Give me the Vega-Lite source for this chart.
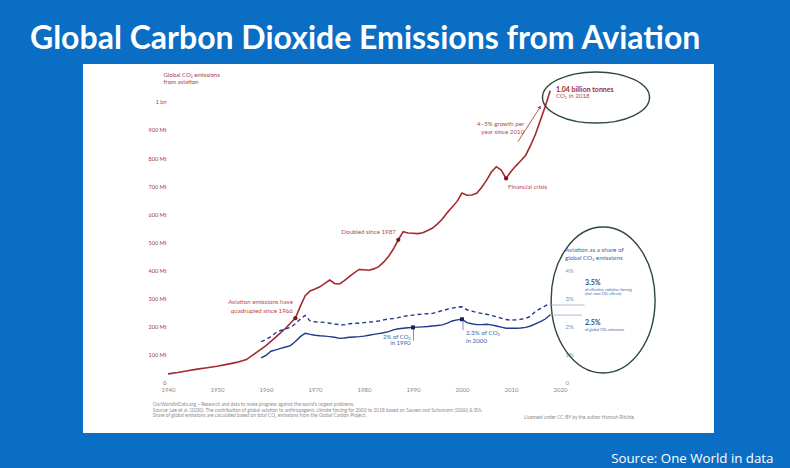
{
  "$schema": "https://vega.github.io/schema/vega-lite/v6.json",
  "width": 631,
  "height": 369,
  "autosize": {"type": "none"},
  "padding": {"left": 83, "top": 64, "right": 76, "bottom": 35},
  "background": "#0a6ec4",
  "config": {"view": {"fill": "white", "stroke": null}, "font": "Lato"},
  "title": {
    "text": "Global Carbon Dioxide Emissions from Aviation",
    "anchor": "start",
    "frame": "group",
    "dx": -53,
    "dy": 31,
    "offset": 14,
    "baseline": "alphabetic",
    "font": "Lato",
    "fontSize": 32,
    "fontWeight": "bold",
    "color": "white"
  },
  "datasets": {
    "red": [
      {"year": 1940, "mt": 29}, {"year": 1942, "mt": 34}, {"year": 1944, "mt": 40}, {"year": 1946, "mt": 46},
      {"year": 1948, "mt": 51}, {"year": 1950, "mt": 56}, {"year": 1952, "mt": 63}, {"year": 1954, "mt": 70},
      {"year": 1956, "mt": 80}, {"year": 1958, "mt": 105}, {"year": 1960, "mt": 130}, {"year": 1962, "mt": 160},
      {"year": 1964, "mt": 192}, {"year": 1966, "mt": 228}, {"year": 1967, "mt": 270}, {"year": 1968, "mt": 308},
      {"year": 1969, "mt": 325}, {"year": 1970, "mt": 332}, {"year": 1971, "mt": 340}, {"year": 1972, "mt": 352},
      {"year": 1973, "mt": 364}, {"year": 1974, "mt": 352}, {"year": 1975, "mt": 350}, {"year": 1976, "mt": 362},
      {"year": 1977, "mt": 376}, {"year": 1978, "mt": 390}, {"year": 1979, "mt": 402}, {"year": 1980, "mt": 401},
      {"year": 1981, "mt": 399}, {"year": 1982, "mt": 404}, {"year": 1983, "mt": 412}, {"year": 1984, "mt": 428},
      {"year": 1985, "mt": 448}, {"year": 1986, "mt": 475}, {"year": 1987, "mt": 508}, {"year": 1988, "mt": 537},
      {"year": 1989, "mt": 532}, {"year": 1990, "mt": 531}, {"year": 1991, "mt": 530}, {"year": 1992, "mt": 533},
      {"year": 1993, "mt": 541}, {"year": 1994, "mt": 550}, {"year": 1995, "mt": 565}, {"year": 1996, "mt": 582},
      {"year": 1997, "mt": 605}, {"year": 1998, "mt": 625}, {"year": 1999, "mt": 645}, {"year": 2000, "mt": 675},
      {"year": 2001, "mt": 667}, {"year": 2002, "mt": 668}, {"year": 2003, "mt": 674}, {"year": 2004, "mt": 695},
      {"year": 2005, "mt": 720}, {"year": 2006, "mt": 750}, {"year": 2007, "mt": 769}, {"year": 2008, "mt": 757},
      {"year": 2009, "mt": 727}, {"year": 2010, "mt": 752}, {"year": 2011, "mt": 772}, {"year": 2012, "mt": 790},
      {"year": 2013, "mt": 810}, {"year": 2014, "mt": 845}, {"year": 2015, "mt": 885}, {"year": 2016, "mt": 935},
      {"year": 2017, "mt": 985}, {"year": 2018, "mt": 1040}
    ],
    "redMarks": [
      {"year": 1966, "mt": 228}, {"year": 1987, "mt": 508}, {"year": 2009, "mt": 727}
    ],
    "redNotesR": [
      {"year": 1965.5, "mt": 286, "label": "Aviation emissions have"},
      {"year": 1965.5, "mt": 254, "label": "quadrupled since 1966"},
      {"year": 1986.5, "mt": 536, "label": "Doubled since 1987"},
      {"year": 2012.7, "mt": 921, "label": "4–5% growth per"},
      {"year": 2012.7, "mt": 893, "label": "year since 2010"}
    ],
    "redNotesL": [
      {"year": 2009.4, "mt": 696, "label": "Financial crisis"},
      {"year": 2019.2, "mt": 1021, "label": "CO₂ in 2018"}
    ],
    "redBold": [
      {"year": 2019.2, "mt": 1044, "label": "1.04 billion tonnes"}
    ],
    "arrow": [
      {"year": 2011.4, "mt": 858, "year2": 2015.7, "mt2": 975}
    ],
    "arrowHead": [
      {"year": 2015.9, "mt": 982}
    ],
    "ell1": [{"year": 2027.35, "mt": 1016}],
    "ell2": [{"year": 2028.8, "mt": 293}],
    "footL": [
      {"year": 1936.9, "mt": -82, "label": "OurWorldInData.org – Research and data to make progress against the world's largest problems."},
      {"year": 1936.9, "mt": -103, "label": "Source: Lee et al. (2020). The contribution of global aviation to anthropogenic climate forcing for 2000 to 2018 based on Sausen and Schumann (2000) & IEA."},
      {"year": 1936.9, "mt": -121, "label": "Share of global emissions are calculated based on total CO₂ emissions from the Global Carbon Project."}
    ],
    "footR": [
      {"year": 2035.3, "mt": -130, "label": "Licensed under CC-BY by the author Hannah Ritchie."}
    ],
    "solid": [
      {"year": 1959, "share": 0.86}, {"year": 1960, "share": 0.95}, {"year": 1961, "share": 1.1}, {"year": 1962, "share": 1.15},
      {"year": 1963, "share": 1.2}, {"year": 1964, "share": 1.25}, {"year": 1965, "share": 1.3}, {"year": 1966, "share": 1.45},
      {"year": 1967, "share": 1.62}, {"year": 1968, "share": 1.74}, {"year": 1969, "share": 1.7}, {"year": 1970, "share": 1.67},
      {"year": 1971, "share": 1.65}, {"year": 1972, "share": 1.64}, {"year": 1973, "share": 1.62}, {"year": 1974, "share": 1.6},
      {"year": 1975, "share": 1.56}, {"year": 1976, "share": 1.57}, {"year": 1977, "share": 1.6}, {"year": 1978, "share": 1.61},
      {"year": 1979, "share": 1.62}, {"year": 1980, "share": 1.64}, {"year": 1981, "share": 1.67}, {"year": 1982, "share": 1.7},
      {"year": 1983, "share": 1.73}, {"year": 1984, "share": 1.76}, {"year": 1985, "share": 1.8}, {"year": 1986, "share": 1.86},
      {"year": 1987, "share": 1.9}, {"year": 1988, "share": 1.92}, {"year": 1989, "share": 1.94}, {"year": 1990, "share": 1.95},
      {"year": 1991, "share": 1.96}, {"year": 1992, "share": 1.97}, {"year": 1993, "share": 1.98}, {"year": 1994, "share": 2.0},
      {"year": 1995, "share": 2.02}, {"year": 1996, "share": 2.04}, {"year": 1997, "share": 2.1}, {"year": 1998, "share": 2.18},
      {"year": 1999, "share": 2.22}, {"year": 2000, "share": 2.24}, {"year": 2001, "share": 2.12}, {"year": 2002, "share": 2.08},
      {"year": 2003, "share": 2.05}, {"year": 2004, "share": 2.05}, {"year": 2005, "share": 2.06}, {"year": 2006, "share": 2.04},
      {"year": 2007, "share": 2.0}, {"year": 2008, "share": 1.96}, {"year": 2009, "share": 1.92}, {"year": 2010, "share": 1.92},
      {"year": 2011, "share": 1.92}, {"year": 2012, "share": 1.93}, {"year": 2013, "share": 1.95}, {"year": 2014, "share": 2.0},
      {"year": 2015, "share": 2.08}, {"year": 2016, "share": 2.16}, {"year": 2017, "share": 2.25}, {"year": 2018, "share": 2.4}
    ],
    "dashed": [
      {"year": 1959, "share": 1.44}, {"year": 1960, "share": 1.52}, {"year": 1961, "share": 1.62}, {"year": 1962, "share": 1.76},
      {"year": 1963, "share": 1.84}, {"year": 1964, "share": 1.9}, {"year": 1965, "share": 1.95}, {"year": 1966, "share": 2.08},
      {"year": 1967, "share": 2.25}, {"year": 1968, "share": 2.38}, {"year": 1969, "share": 2.18}, {"year": 1970, "share": 2.15},
      {"year": 1971, "share": 2.14}, {"year": 1972, "share": 2.13}, {"year": 1973, "share": 2.1}, {"year": 1974, "share": 2.07},
      {"year": 1975, "share": 2.05}, {"year": 1976, "share": 2.04}, {"year": 1977, "share": 2.08}, {"year": 1978, "share": 2.1},
      {"year": 1979, "share": 2.1}, {"year": 1980, "share": 2.12}, {"year": 1981, "share": 2.14}, {"year": 1982, "share": 2.15},
      {"year": 1983, "share": 2.18}, {"year": 1984, "share": 2.22}, {"year": 1985, "share": 2.25}, {"year": 1986, "share": 2.27},
      {"year": 1987, "share": 2.3}, {"year": 1988, "share": 2.34}, {"year": 1989, "share": 2.37}, {"year": 1990, "share": 2.39},
      {"year": 1991, "share": 2.41}, {"year": 1992, "share": 2.43}, {"year": 1993, "share": 2.44}, {"year": 1994, "share": 2.45},
      {"year": 1995, "share": 2.5}, {"year": 1996, "share": 2.55}, {"year": 1997, "share": 2.6}, {"year": 1998, "share": 2.64},
      {"year": 1999, "share": 2.67}, {"year": 2000, "share": 2.69}, {"year": 2001, "share": 2.58}, {"year": 2002, "share": 2.53},
      {"year": 2003, "share": 2.48}, {"year": 2004, "share": 2.45}, {"year": 2005, "share": 2.42}, {"year": 2006, "share": 2.38},
      {"year": 2007, "share": 2.33}, {"year": 2008, "share": 2.28}, {"year": 2009, "share": 2.23}, {"year": 2010, "share": 2.21},
      {"year": 2011, "share": 2.22}, {"year": 2012, "share": 2.24}, {"year": 2013, "share": 2.27}, {"year": 2014, "share": 2.35},
      {"year": 2015, "share": 2.52}, {"year": 2016, "share": 2.62}, {"year": 2017, "share": 2.72}, {"year": 2018, "share": 2.8}
    ],
    "blueMarks": [{"year": 1990, "share": 1.95}, {"year": 2000, "share": 2.24}],
    "blueConn": [{"year": 1990.1, "share": 1.9, "share2": 1.48}, {"year": 2000.2, "share": 2.15, "share2": 1.85}],
    "leaders": [{"year": 2017.8, "year2": 2025, "share": 2.75}, {"year": 2017.8, "year2": 2024.5, "share": 2.39}],
    "blueNotesR": [
      {"year": 1989.5, "share": 1.61, "label": "2% of CO₂"},
      {"year": 1989.5, "share": 1.4, "label": "in 1990"}
    ],
    "blueNotesL": [
      {"year": 2000.8, "share": 1.75, "label": "2.3% of CO₂"},
      {"year": 2000.8, "share": 1.46, "label": "in 2000"},
      {"year": 2021.0, "share": 4.71, "label": "Aviation as a share of"},
      {"year": 2021.0, "share": 4.43, "label": "global CO₂ emissions"}
    ],
    "blueBold": [
      {"year": 2025.1, "share": 3.54, "label": "3.5%"},
      {"year": 2025.1, "share": 2.11, "label": "2.5%"}
    ],
    "blueSmall": [
      {"year": 2025.1, "share": 3.3, "label": "of effective radiative forcing"},
      {"year": 2025.1, "share": 3.13, "label": "(incl. non-CO₂ effects)"},
      {"year": 2025.1, "share": 1.84, "label": "of global CO₂ emissions"}
    ]
  },
  "encoding": {
    "x": {
      "field": "year",
      "type": "quantitative",
      "scale": {"domain": [1922.653, 2051.43], "nice": false, "zero": false},
      "axis": {
        "offset": -51,
        "values": [1940, 1950, 1960, 1970, 1980, 1990, 2000, 2010, 2020],
        "format": "d",
        "labelColor": "#8a8a8a",
        "labelFontSize": 6,
        "labelPadding": 4,
        "domain": false,
        "ticks": false,
        "grid": false,
        "title": "Source: One World in data",
        "titleFont": "Open Sans",
        "titleFontSize": 13.3,
        "titleFontWeight": "normal",
        "titleColor": "white",
        "titleAlign": "right",
        "titleBaseline": "middle",
        "titleX": 690,
        "titleY": 76
      }
    }
  },
  "layer": [
    {
      "encoding": {
        "y": {
          "field": "mt",
          "type": "quantitative",
          "scale": {"domain": [-182.1, 1135.7], "nice": false, "zero": false},
          "axis": {
            "orient": "left",
            "offset": -85,
            "values": [0, 100, 200, 300, 400, 500, 600, 700, 800, 900, 1000],
            "labelExpr": "datum.value == 0 ? '0' : (datum.value == 1000 ? '1 bn' : datum.value + ' Mt')",
            "labelColor": "#a83a3f",
            "labelFontSize": 5.5,
            "labelPadding": 2,
            "domain": false,
            "ticks": false,
            "grid": false,
            "title": ["Global CO₂ emissions", "from aviation"],
            "titleAngle": 0,
            "titleAlign": "left",
            "titleBaseline": "top",
            "titleX": -5,
            "titleY": 7,
            "titleColor": "#a83a3f",
            "titleFontSize": 6,
            "titleFontWeight": "normal",
            "titleLineHeight": 7
          }
        }
      },
      "layer": [
        {"data": {"name": "footL"}, "mark": {"type": "text", "align": "left", "baseline": "middle", "fontSize": 4.8, "color": "#8c8c8c"}, "encoding": {"text": {"field": "label"}}},
        {"data": {"name": "footR"}, "mark": {"type": "text", "align": "right", "baseline": "middle", "fontSize": 4.8, "color": "#8c8c8c"}, "encoding": {"text": {"field": "label"}}},
        {"data": {"name": "red"}, "mark": {"type": "line", "color": "#a32b2f", "strokeWidth": 1.6}},
        {"data": {"name": "redMarks"}, "mark": {"type": "point", "filled": true, "color": "#7a1620", "size": 18, "opacity": 1}},
        {"data": {"name": "arrow"}, "mark": {"type": "rule", "color": "#a32b2f", "strokeWidth": 0.8}, "encoding": {"x2": {"field": "year2"}, "y2": {"field": "mt2"}}},
        {"data": {"name": "arrowHead"}, "mark": {"type": "point", "shape": "triangle-up", "filled": true, "size": 14, "angle": 32, "color": "#a32b2f", "opacity": 1}},
        {"data": {"name": "redNotesR"}, "mark": {"type": "text", "align": "right", "baseline": "middle", "fontSize": 6.2, "color": "#b5474c"}, "encoding": {"text": {"field": "label"}}},
        {"data": {"name": "redNotesL"}, "mark": {"type": "text", "align": "left", "baseline": "middle", "fontSize": 6.2, "color": "#b5474c"}, "encoding": {"text": {"field": "label"}}},
        {"data": {"name": "redBold"}, "mark": {"type": "text", "align": "left", "baseline": "middle", "fontSize": 7, "fontWeight": "bold", "color": "#a32b2f"}, "encoding": {"text": {"field": "label"}}},
        {"data": {"name": "ell1"}, "mark": {"type": "point", "shape": "M-1,0A1,0.477,0,1,0,1,0A1,0.477,0,1,0,-1,0Z", "size": 11449, "filled": false, "stroke": "#2e4a36", "strokeWidth": 1.4, "opacity": 1}},
        {"data": {"name": "ell2"}, "mark": {"type": "point", "shape": "M0,-1A0.712,1,0,1,0,0,1A0.712,1,0,1,0,0,-1Z", "size": 21316, "filled": false, "stroke": "#2e4a36", "strokeWidth": 1.4, "opacity": 1}}
      ]
    },
    {
      "encoding": {
        "y": {
          "field": "share",
          "type": "quantitative",
          "scale": {"domain": [-1.821, 11.357], "nice": false, "zero": false},
          "axis": {
            "orient": "right",
            "offset": -151,
            "values": [0, 1, 2, 3, 4],
            "labelExpr": "datum.value == 0 ? '0' : datum.value + '%'",
            "labelColor": "#7f8fae",
            "labelFontSize": 6,
            "labelPadding": 2,
            "domain": false,
            "ticks": false,
            "grid": false,
            "title": null
          }
        }
      },
      "layer": [
        {"data": {"name": "leaders"}, "mark": {"type": "rule", "color": "#9aa7c0", "strokeWidth": 0.8}, "encoding": {"x2": {"field": "year2"}}},
        {"data": {"name": "dashed"}, "mark": {"type": "line", "color": "#1f3a8a", "strokeWidth": 1.4, "strokeDash": [4, 3]}},
        {"data": {"name": "solid"}, "mark": {"type": "line", "color": "#1f3a8a", "strokeWidth": 1.4}},
        {"data": {"name": "blueConn"}, "mark": {"type": "rule", "color": "#3b64ad", "strokeWidth": 0.7}, "encoding": {"y2": {"field": "share2"}}},
        {"data": {"name": "blueMarks"}, "mark": {"type": "point", "shape": "square", "filled": true, "color": "#14245e", "size": 16, "opacity": 1}},
        {"data": {"name": "blueNotesR"}, "mark": {"type": "text", "align": "right", "baseline": "middle", "fontSize": 6, "color": "#3b64ad"}, "encoding": {"text": {"field": "label"}}},
        {"data": {"name": "blueNotesL"}, "mark": {"type": "text", "align": "left", "baseline": "middle", "fontSize": 6.3, "color": "#3b64ad"}, "encoding": {"text": {"field": "label"}}},
        {"data": {"name": "blueBold"}, "mark": {"type": "text", "align": "left", "baseline": "middle", "fontSize": 7, "fontWeight": "bold", "color": "#2a4a8c"}, "encoding": {"text": {"field": "label"}}},
        {"data": {"name": "blueSmall"}, "mark": {"type": "text", "align": "left", "baseline": "middle", "fontSize": 3.8, "color": "#3b64ad"}, "encoding": {"text": {"field": "label"}}}
      ]
    }
  ],
  "resolve": {"scale": {"y": "independent"}, "axis": {"y": "independent"}}
}
